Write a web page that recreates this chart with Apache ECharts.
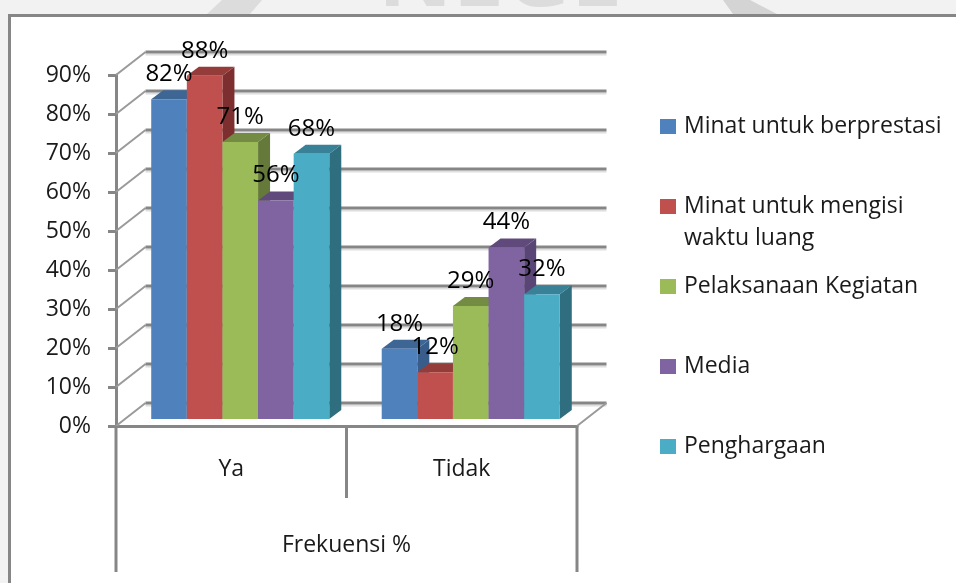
<!DOCTYPE html>
<html>
<head>
<meta charset="utf-8">
<style>
  html, body { margin: 0; padding: 0; background: #f2f2f2; }
  #chart { width: 956px; height: 583px; }
</style>
<script src="https://cdn.jsdelivr.net/npm/echarts@6/dist/echarts.min.js"></script>
</head>
<body>
<div id="chart"></div>
<script>
  let categories = ['Ya', 'Tidak'];
  let seriesNames = ['Minat untuk berprestasi', 'Minat untuk mengisi', 'Pelaksanaan Kegiatan', 'Media', 'Penghargaan'];
  let seriesNameExtra = 'waktu luang';
  let minatPrestasi = [82, 18];
  let minatWaktu = [88, 12];
  let pelaksanaan = [71, 29];
  let media = [56, 44];
  let penghargaan = [68, 32];
  let allValues = [minatPrestasi, minatWaktu, pelaksanaan, media, penghargaan];
  let wallTicks = [0, 10, 20, 30, 40, 50, 60, 70, 80, 90];

  // front, top, side
  let colors = [
    ['#4f81bd', '#3d6695', '#385d8a'],
    ['#c0504d', '#943c3a', '#7c2f2e'],
    ['#9bbb59', '#738b42', '#64793a'],
    ['#8064a2', '#604a7b', '#5a4676'],
    ['#4bacc6', '#388196', '#2f6e7f']
  ];

  const fontName = '"Open Sans", sans-serif';
  const gridColor = '#868686';
  // shift of the back wall and of the bars from the front axis
  const wallDx = 29.5, wallDy = -23;
  const barDx = 9, barDy = -7;
  const depthX = 12, depthY = -9;

  function line(x1, y1, x2, y2, color, width) {
    return {
      type: 'line',
      shape: {x1: x1, y1: y1, x2: x2, y2: y2},
      style: {stroke: color, lineWidth: width},
      silent: true
    };
  }

  function poly(points, color) {
    return {type: 'polygon', shape: {points: points}, style: {fill: color, stroke: null}};
  }

  // back wall, floor and long category dividers
  function renderWalls(params, api) {
    let band = api.size([1, 0])[0];
    let left = api.coord([0, 0])[0] - band / 2;
    let right = api.coord([1, 0])[0] + band / 2;
    let mid = (left + right) / 2;
    let bottom = api.coord([0, 0])[1];
    let children = [];
    wallTicks.forEach(function (t) {
      let y = api.coord([0, t])[1];
      children.push(line(left + wallDx, y + wallDy + 2.5, right + wallDx, y + wallDy + 2.5, '#dedede', 2));
      children.push(line(left, y, left + wallDx, y + wallDy, '#9a9a9a', 2));
      children.push(line(left + wallDx, y + wallDy, right + wallDx, y + wallDy, gridColor, 3));
    });
    children.push(line(right, bottom, right + wallDx, bottom + wallDy, '#9a9a9a', 2));
    children.push(line(left, bottom, left, bottom + 146, gridColor, 3));
    children.push(line(right, bottom, right, bottom + 146, gridColor, 3));
    children.push(line(mid, bottom, mid, bottom + 72, gridColor, 3));
    return {type: 'group', children: children};
  }

  function renderBar(seriesIndex) {
    return function (params, api) {
      let band = api.size([1, 0])[0];
      let w = band * 0.1545;
      let cat = api.value(0);
      let val = api.value(1);
      let x = api.coord([cat, 0])[0] + barDx + (seriesIndex - 2.5) * w;
      let y0 = api.coord([cat, 0])[1] + barDy;
      let y1 = api.coord([cat, val])[1] + barDy;
      let c = colors[seriesIndex];
      return {
        type: 'group',
        children: [
          Object.assign(poly([[x + w, y1], [x + w + depthX, y1 + depthY], [x + w + depthX, y0 + depthY], [x + w, y0]], c[2]), {z2: seriesIndex}),
          Object.assign(poly([[x, y1], [x + depthX, y1 + depthY], [x + w + depthX, y1 + depthY], [x + w, y1]], c[1]), {z2: seriesIndex}),
          Object.assign(poly([[x, y1], [x + w, y1], [x + w, y0], [x, y0]], c[0]), {z2: seriesIndex}),
          {
            type: 'text',
            z2: 20,
            style: {
              x: x + w / 2,
              y: y1 - 25,
              text: val + '%',
              fill: '#000',
              font: '24px ' + fontName,
              align: 'center',
              verticalAlign: 'middle'
            }
          }
        ]
      };
    };
  }

  let series = [{
    name: 'walls',
    type: 'custom',
    silent: true,
    renderItem: renderWalls,
    data: [[0, 0]],
    encode: {x: 0, y: 1},
    z: 1
  }];
  allValues.forEach(function (vals, i) {
    series.push({
      name: seriesNames[i],
      type: 'custom',
      renderItem: renderBar(i),
      itemStyle: {color: colors[i][0]},
      data: vals.map(function (v, j) { return [j, v]; }),
      encode: {x: 0, y: 1},
      z: 3
    });
  });

  let chart = echarts.init(document.getElementById('chart'));
  let option = {
    backgroundColor: '#f2f2f2',
    animation: false,
    textStyle: {fontFamily: fontName},
    graphic: {
      elements: [
        // watermark showing above the chart frame
        {type: 'text', z: -3, silent: true, style: {x: 500, y: -20, text: 'NEGE', fill: '#dcdcdc', font: 'bold 92px ' + fontName, align: 'center', verticalAlign: 'middle'}},
        {type: 'polygon', z: -3, silent: true, shape: {points: [[723, 0], [750, 0], [777, 14], [733, 14]]}, style: {fill: '#d4d4d4'}},
        {type: 'polygon', z: -3, silent: true, shape: {points: [[207, 14], [222, 0], [262, 0], [250, 14]]}, style: {fill: '#dcdcdc'}},
        {type: 'rect', z: -2, silent: true, shape: {x: 9.5, y: 15.5, width: 960, height: 600}, style: {fill: '#fff', stroke: gridColor, lineWidth: 3}},
        {type: 'text', z: 5, silent: true, style: {x: 684, y: 238, text: seriesNameExtra, fill: '#1a1a1a', font: '23px ' + fontName, verticalAlign: 'middle'}}
      ]
    },
    legend: {
      orient: 'vertical',
      left: 655,
      top: 110,
      icon: 'rect',
      itemWidth: 16,
      itemHeight: 15,
      itemGap: 57,
      selectedMode: false,
      data: seriesNames,
      textStyle: {color: '#1a1a1a', fontSize: 23, fontFamily: fontName, padding: [0, 0, 0, 3]}
    },
    grid: {left: 116, right: 379, top: 75, bottom: 157, containLabel: false},
    xAxis: {
      type: 'category',
      data: categories,
      name: 'Frekuensi %',
      nameLocation: 'middle',
      nameGap: 108,
      nameTextStyle: {color: '#1a1a1a', fontSize: 23, fontFamily: fontName},
      axisLine: {lineStyle: {color: gridColor, width: 3}},
      axisTick: {show: false},
      axisLabel: {color: '#1a1a1a', fontSize: 23, fontFamily: fontName, margin: 32}
    },
    yAxis: {
      type: 'value',
      min: 0,
      max: 90,
      interval: 10,
      splitLine: {show: false},
      axisLine: {show: true, lineStyle: {color: gridColor, width: 3}},
      axisTick: {show: true, length: 8, lineStyle: {color: gridColor, width: 3}},
      axisLabel: {formatter: '{value}%', color: '#1a1a1a', fontSize: 23, fontFamily: fontName, margin: 25, padding: [3, 0, 0, 0]}
    },
    series: series
  };
  chart.setOption(option);
</script>
</body>
</html>
